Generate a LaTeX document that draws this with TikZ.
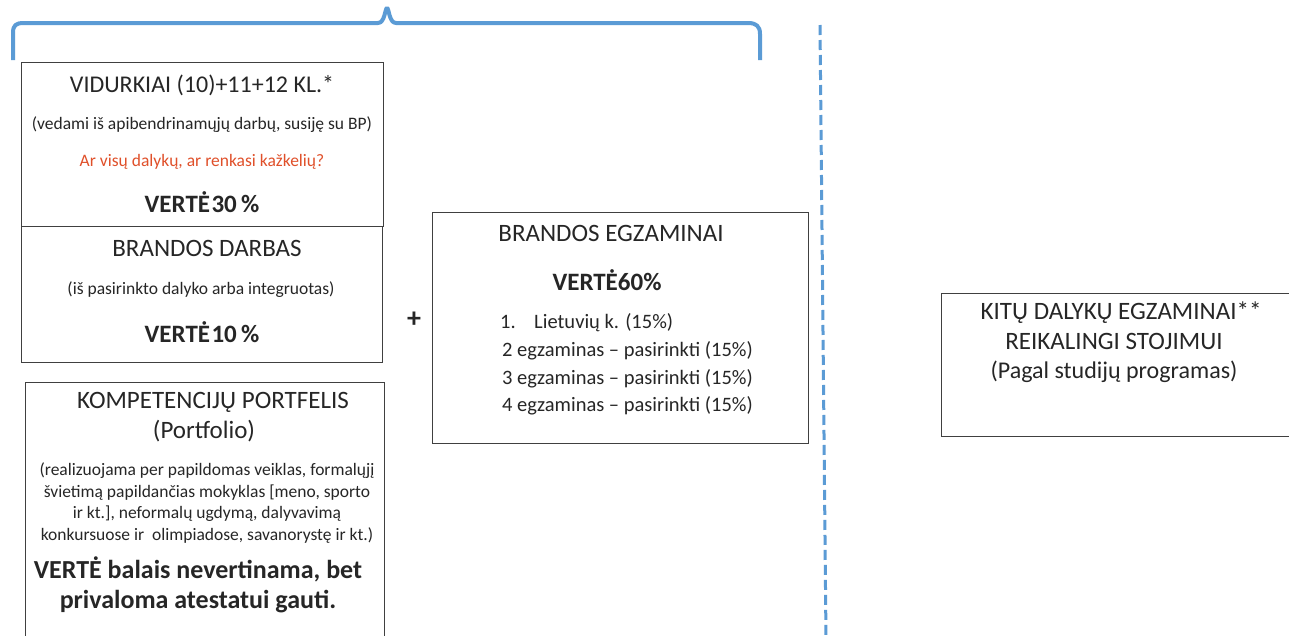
\documentclass[tikz,border=0pt]{standalone}
\usepackage{fontspec}
\setmainfont{Carlito}
\definecolor{bracecol}{HTML}{5B9BD5}
\definecolor{txt}{HTML}{262626}
\definecolor{redtxt}{HTML}{E0502A}
\definecolor{boxline}{HTML}{404040}
\tikzset{
  box/.style={draw=boxline, line width=1pt, inner sep=0pt, outer sep=0pt, anchor=north west},
  lbl/.style={inner sep=0pt, text=txt, align=center},
  fs/.style={font=\fontsize{#1}{#1}\selectfont},
  fsb/.style={font=\fontsize{#1}{#1}\selectfont\bfseries},
}
\begin{document}
\begin{tikzpicture}[x=1pt,y=-1pt]
\useasboundingbox (0,0) rectangle (1289,635);
\clip (0,0) rectangle (1289,635);
\fill[white] (0,0) rectangle (1289,635);
% brace
\draw[bracecol, line width=4pt, line join=round]
  (13,60) -- (13,33) .. controls (13,25) and (16,23) .. (24,23)
  -- (378,23) .. controls (385,23) and (385,8) .. (387,8)
  .. controls (389,8) and (389,23) .. (396,23)
  -- (748,23) .. controls (756,23) and (760,26) .. (760,34) -- (760,60);
% dashed divider
\coordinate (dtop) at (820,25);
\coordinate (dbot) at (826,640);
\draw[bracecol, line width=3pt, dash pattern=on 10pt off 5pt] (dtop) -- (dbot);
% boxes
\node[box, minimum width=362pt, minimum height=164pt] (vid) at (21,62) {};
\node[box, minimum width=361pt, minimum height=136pt] (bd) at (21,226) {};
\node[box, minimum width=359pt, minimum height=300pt] (kp) at (25,382) {};
\node[box, minimum width=376pt, minimum height=231pt] (be) at (432,212) {};
\node[box, minimum width=400pt, minimum height=143pt] (kit) at (941,293) {};
% VIDURKIAI
\node[lbl, fs=24] (t1) at (202,85) {VIDURKIAI (10)+11+12 KL.*};
\node[lbl, fs=17.5] (t2) at (202,125) {(vedami iš apibendrinamųjų darbų, susiję su BP)};
\node[lbl, fs=17.5, text=redtxt] (t3) at (202,162) {Ar visų dalykų, ar renkasi kažkelių?};
\node[lbl, fsb=25] (t4) at (202,202) {VERTĖ\kern1.5pt30\,\%};
% BRANDOS DARBAS
\node[lbl, fs=25] (t5) at (207,248) {BRANDOS DARBAS};
\node[lbl, fs=17.5] (t6) at (201,290) {(iš pasirinkto dalyko arba integruotas)};
\node[lbl, fsb=25] (t7) at (202,332) {VERTĖ\kern1.5pt10\,\%};
% Portfolio
\node[lbl, fs=25] (t8) at (213,402) {KOMPETENCIJŲ PORTFELIS};
\node[lbl, fs=25] (t9) at (204,431) {(Portfolio)};
\node[lbl, font=\fontsize{17.5}{21.7}\selectfont] (t10) at (207,503) {(realizuojama per papildomas veiklas, formalųjį\\švietimą papildančias mokyklas [meno, sporto\\ir kt.], neformalų ugdymą, dalyvavimą\\konkursuose ir\ \ olimpiadose, savanorystę ir kt.)};
\node[lbl, font=\fontsize{26}{30}\selectfont\bfseries] (t11) at (198,585) {VERTĖ balais nevertinama, bet\\privaloma atestatui gauti.};
% plus
\node[lbl, fsb=28] (plus) at (414,320) {+};
% BRANDOS EGZAMINAI
\node[lbl, fs=25] (t12) at (611,233) {BRANDOS EGZAMINAI};
\node[lbl, fsb=25] (t13) at (607,280) {VERTĖ60\%};
\node[lbl, anchor=west, fs=20.5] (l1) at (500,323) {1.\hspace{0.9em}Lietuvių k. (15\%)};
\node[lbl, anchor=west, fs=20.5] (l2) at (502,351) {2 egzaminas – pasirinkti (15\%)};
\node[lbl, anchor=west, fs=20.5] (l3) at (502,379) {3 egzaminas – pasirinkti (15\%)};
\node[lbl, anchor=west, fs=20.5] (l4) at (502,406) {4 egzaminas – pasirinkti (15\%)};
% KITU
\node[lbl, fs=25] (t14) at (1121,313) {KITŲ DALYKŲ EGZAMINAI**};
\node[lbl, fs=25] (t15) at (1114,341) {REIKALINGI STOJIMUI};
\node[lbl, fs=24] (t16) at (1114,372) {(Pagal studijų programas)};
\end{tikzpicture}
\end{document}
